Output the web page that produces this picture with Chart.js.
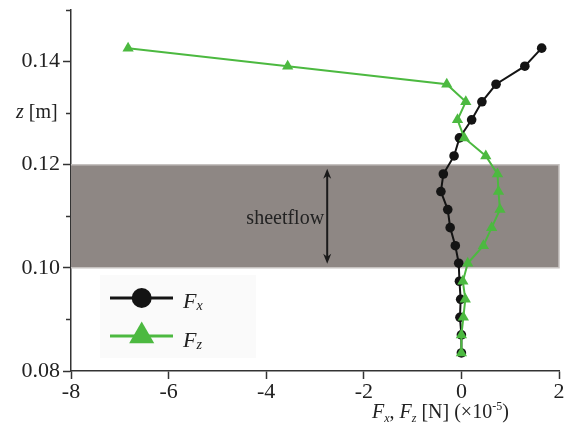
<!DOCTYPE html>
<html>
<head>
<meta charset="utf-8">
<script src="https://cdn.jsdelivr.net/npm/chart.js@4.4.1/dist/chart.umd.min.js"></script>
<style>
html, body { margin: 0; padding: 0; background: #fff; }
#wrap { width: 567px; height: 427px; }
</style>
</head>
<body>
<div id="wrap"><canvas id="forceProfile" width="567" height="427"></canvas></div>
<script>
// Heights of the measuring points [m], bottom to top
const heights = [0.0835, 0.0870, 0.0904, 0.0939, 0.0974, 0.1009, 0.1043, 0.1078, 0.1113,
                 0.1148, 0.1182, 0.1217, 0.1252, 0.1287, 0.1322, 0.1356, 0.1391, 0.1426];
// Fx and Fz (x 10^-5 N) at those heights
const fx = [0.00, 0.00, -0.03, -0.015, -0.04, -0.055, -0.125, -0.23, -0.28,
            -0.42, -0.37, -0.15, -0.04, 0.21, 0.42, 0.71, 1.30, 1.645];
const fz = [0.00, 0.00, 0.04, 0.08, 0.03, 0.13, 0.45, 0.62, 0.79,
            0.76, 0.74, 0.50, 0.06, -0.08, 0.09, -0.30, -3.56, -6.83];

const xTicks = [-8, -6, -4, -2, 0, 2];
const sheetflowBottom = 0.10;
const sheetflowTop = 0.12;
const arrowX = -2.75;

const SERIF = '"Liberation Serif", "Times New Roman", serif';
const BLACK = '#141414';
const GREEN = '#4cb940';

function toPoints(xs) {
    return xs.map((v, i) => ({ x: v, y: heights[i] }));
}

// draws text pieces one after another: [text, size, italic, baselineShift]
function drawRich(ctx, x, y, parts) {
    parts.forEach(p => {
        ctx.font = (p[2] ? 'italic ' : '') + p[1] + 'px ' + SERIF;
        ctx.fillText(p[0], x, y + (p[3] || 0));
        x += ctx.measureText(p[0]).width;
    });
}

const decorations = {
    id: 'decorations',
    beforeDatasetsDraw(chart) {
        const { ctx } = chart;
        const xs = chart.scales.x, ys = chart.scales.y;
        const l = xs.getPixelForValue(-8), r = xs.getPixelForValue(2);
        const t = ys.getPixelForValue(sheetflowTop), b = ys.getPixelForValue(sheetflowBottom);
        ctx.save();
        ctx.fillStyle = '#8e8784';
        ctx.fillRect(l, t, r - l, b - t);
        ctx.strokeStyle = '#c6c2c0';
        ctx.lineWidth = 1.5;
        ctx.beginPath();
        ctx.moveTo(l, t); ctx.lineTo(r, t); ctx.lineTo(r, b); ctx.lineTo(l, b);
        ctx.stroke();

        // double arrow
        const ax = xs.getPixelForValue(arrowX);
        const a1 = ys.getPixelForValue(0.1192), a2 = ys.getPixelForValue(0.1008);
        ctx.strokeStyle = '#1a1a1a';
        ctx.fillStyle = '#1a1a1a';
        ctx.lineWidth = 2;
        ctx.beginPath();
        ctx.moveTo(ax, a1 + 6); ctx.lineTo(ax, a2 - 6);
        ctx.stroke();
        ctx.beginPath();
        ctx.moveTo(ax, a1); ctx.lineTo(ax - 4, a1 + 10); ctx.lineTo(ax, a1 + 7); ctx.lineTo(ax + 4, a1 + 10);
        ctx.closePath(); ctx.fill();
        ctx.beginPath();
        ctx.moveTo(ax, a2); ctx.lineTo(ax - 4, a2 - 10); ctx.lineTo(ax, a2 - 7); ctx.lineTo(ax + 4, a2 - 10);
        ctx.closePath(); ctx.fill();

        ctx.fillStyle = '#222';
        ctx.font = '20px ' + SERIF;
        ctx.textAlign = 'center';
        ctx.textBaseline = 'middle';
        ctx.fillText('sheetflow', xs.getPixelForValue(-3.61), ys.getPixelForValue(0.11) + 2);
        ctx.restore();
    },
    afterDraw(chart) {
        const { ctx } = chart;
        const ys = chart.scales.y;
        const axisX = chart.chartArea.left;
        ctx.save();
        // minor ticks
        ctx.strokeStyle = '#333';
        ctx.lineWidth = 1.5;
        [0.09, 0.11, 0.13, 0.15].forEach(v => {
            const py = Math.round(ys.getPixelForValue(v)) + 0.5;
            ctx.beginPath();
            ctx.moveTo(axisX - 5, py); ctx.lineTo(axisX, py);
            ctx.stroke();
        });

        ctx.fillStyle = '#222';
        ctx.textBaseline = 'alphabetic';
        ctx.textAlign = 'left';
        // y label at the 0.13 tick
        drawRich(ctx, 16, ys.getPixelForValue(0.13) + 5, [['z', 20, true], [' [m]', 20, false]]);

        // x axis title
        drawRich(ctx, 372, 418, [
            ['F', 20, true], ['x', 12, true, 4], [', ', 20, false],
            ['F', 20, true], ['z', 12, true, 4], [' [N] (×10', 20, false],
            ['-5', 12, false, -8], [')', 20, false]
        ]);

        // legend
        ctx.fillStyle = '#fafafa';
        ctx.fillRect(100, 275, 156, 83);
        ctx.lineWidth = 3;
        ctx.strokeStyle = BLACK;
        ctx.beginPath(); ctx.moveTo(110, 298); ctx.lineTo(173, 298); ctx.stroke();
        ctx.fillStyle = BLACK;
        ctx.beginPath(); ctx.arc(141.7, 298, 10, 0, Math.PI * 2); ctx.fill();
        ctx.strokeStyle = GREEN;
        ctx.beginPath(); ctx.moveTo(110, 336); ctx.lineTo(173, 336); ctx.stroke();
        ctx.fillStyle = GREEN;
        const tr = 14.5, cx = 141.7, cy = 336;
        ctx.beginPath();
        ctx.moveTo(cx, cy - tr);
        ctx.lineTo(cx + Math.sin(2 * Math.PI / 3) * tr, cy + tr / 2);
        ctx.lineTo(cx - Math.sin(2 * Math.PI / 3) * tr, cy + tr / 2);
        ctx.closePath(); ctx.fill();
        ctx.fillStyle = '#222';
        drawRich(ctx, 183, 308, [['F', 22, true], ['x', 14, true, 2]]);
        drawRich(ctx, 183, 346.5, [['F', 22, true], ['z', 14, true, 2]]);
        ctx.restore();
    }
};

const ctx = document.getElementById('forceProfile').getContext('2d');
new Chart(ctx, {
    type: 'scatter',
    data: {
        datasets: [{
            label: 'Fz',
            data: toPoints(fz),
            showLine: true,
            borderColor: GREEN,
            backgroundColor: GREEN,
            borderWidth: 2,
            pointStyle: 'triangle',
            pointRadius: 6.5,
            pointBorderWidth: 0,
            order: 0
        }, {
            label: 'Fx',
            data: toPoints(fx),
            showLine: true,
            borderColor: BLACK,
            backgroundColor: BLACK,
            borderWidth: 2,
            pointStyle: 'circle',
            pointRadius: 4.8,
            pointBorderWidth: 0,
            order: 1
        }]
    },
    options: {
        responsive: false,
        animation: false,
        layout: { padding: { top: 10, right: 8, left: 0, bottom: 0 } },
        plugins: {
            legend: { display: false },
            tooltip: { enabled: false }
        },
        scales: {
            x: {
                type: 'linear',
                min: -8,
                max: 2,
                afterBuildTicks: scale => { scale.ticks = xTicks.map(v => ({ value: v })); },
                afterFit: scale => { scale.height = 56; scale.paddingLeft = 0; scale.paddingRight = 0; },
                grid: { drawOnChartArea: false, tickLength: 8, tickColor: '#333', tickWidth: 1.5 },
                border: { color: '#333', width: 1.5 },
                ticks: {
                    color: '#222',
                    font: { family: SERIF, size: 22 },
                    padding: 0,
                    maxRotation: 0,
                    callback: v => String(v)
                }
            },
            y: {
                type: 'linear',
                min: 0.08,
                max: 0.15,
                afterFit: scale => { scale.width = 71; scale.paddingTop = 0; scale.paddingBottom = 0; },
                grid: {
                    drawOnChartArea: false,
                    tickLength: 8,
                    tickWidth: 1.5,
                    tickColor: c => (Math.round(c.tick.value * 100) % 2 === 0 ? '#333' : 'rgba(0,0,0,0)')
                },
                border: { color: '#333', width: 1.5 },
                ticks: {
                    stepSize: 0.01,
                    color: '#222',
                    font: { family: SERIF, size: 22 },
                    padding: 3,
                    callback: v => (Math.round(v * 100) % 2 === 0 ? v.toFixed(2) : '')
                }
            }
        }
    },
    plugins: [decorations]
});
</script>
</body>
</html>
